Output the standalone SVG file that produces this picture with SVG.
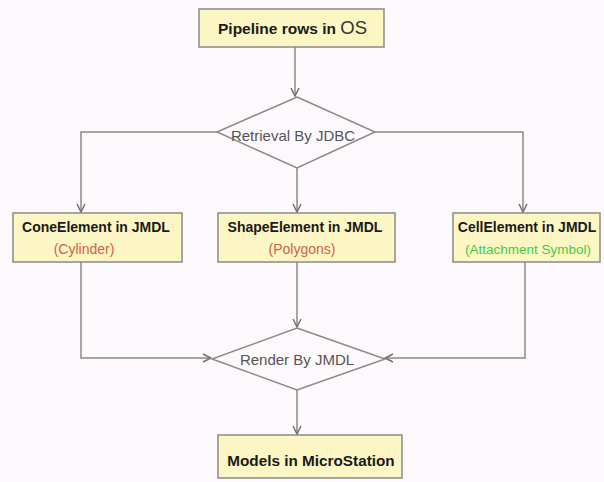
<svg xmlns="http://www.w3.org/2000/svg" width="604" height="482" viewBox="0 0 604 482">
<defs>
<marker id="arr" markerWidth="10" markerHeight="10" refX="9" refY="5" orient="auto" markerUnits="userSpaceOnUse">
<path d="M1,1 L9,5 L1,9" fill="none" stroke="#707070" stroke-width="1.5"/>
</marker>
<style>
.box{fill:#fcf6c4;stroke:#8a8a8a;stroke-width:1.5}
.dia{fill:#fcf8fc;stroke:#8a8a8a;stroke-width:1.5}
.con{fill:none;stroke:#8a8a8a;stroke-width:1.5}
.b{font-family:"Liberation Sans",Arial,sans-serif;font-weight:bold;font-size:14px;fill:#1a1a1a}
.r{font-family:"Liberation Sans",Arial,sans-serif;font-size:15px;fill:#555}
.red{font-family:"Liberation Sans",Arial,sans-serif;font-size:14px;fill:#d0604c}
.grn{font-family:"Liberation Sans",Arial,sans-serif;font-size:13.5px;fill:#44cc44}
</style>
</defs>
<rect width="604" height="482" fill="#fcf8fc"/>
<g id="connectors">
<path class="con" d="M295,47 V96" marker-end="url(#arr)"/>
<path class="con" d="M217,132 H81 V212" marker-end="url(#arr)"/>
<path class="con" d="M297,168 V212" marker-end="url(#arr)"/>
<path class="con" d="M375,132 H523 V212" marker-end="url(#arr)"/>
<path class="con" d="M81,262 V358 H211" marker-end="url(#arr)"/>
<path class="con" d="M297,262 V327" marker-end="url(#arr)"/>
<path class="con" d="M525,262 V358 H385" marker-end="url(#arr)"/>
<path class="con" d="M297,390 V434" marker-end="url(#arr)"/>
</g>
<g id="pipeline">
<rect class="box" x="199" y="9" width="185" height="38"/>
<text x="218" y="34"><tspan class="b" style="font-size:15.5px">Pipeline rows in </tspan><tspan style="font-family:'Liberation Sans',Arial,sans-serif;font-size:18.5px;fill:#333">OS</tspan></text>
</g>
<g id="retrieval">
<polygon class="dia" points="297,97 375,132 297,168 217,132"/>
<text class="r" x="293" y="141" text-anchor="middle">Retrieval By JDBC</text>
</g>
<g id="cone">
<rect class="box" x="13" y="213" width="169" height="49"/>
<text class="b" x="96" y="232" text-anchor="middle">ConeElement in JMDL</text>
<text class="red" x="84" y="254" text-anchor="middle">(Cylinder)</text>
</g>
<g id="shape">
<rect class="box" x="218" y="213" width="177" height="49"/>
<text class="b" x="305" y="232" text-anchor="middle">ShapeElement in JMDL</text>
<text class="red" x="302" y="254" text-anchor="middle">(Polygons)</text>
</g>
<g id="cell">
<rect class="box" x="453" y="213" width="147" height="49"/>
<text class="b" x="527" y="232" text-anchor="middle">CellElement in JMDL</text>
<text class="grn" x="528" y="254" text-anchor="middle">(Attachment Symbol)</text>
</g>
<g id="render">
<polygon class="dia" points="297,328 385,359 297,390 212,359"/>
<text class="r" x="297" y="365" text-anchor="middle">Render By JMDL</text>
</g>
<g id="models">
<rect class="box" x="218" y="435" width="184" height="43"/>
<text class="b" x="311" y="466" text-anchor="middle" style="font-size:15.3px">Models in MicroStation</text>
</g>
</svg>
